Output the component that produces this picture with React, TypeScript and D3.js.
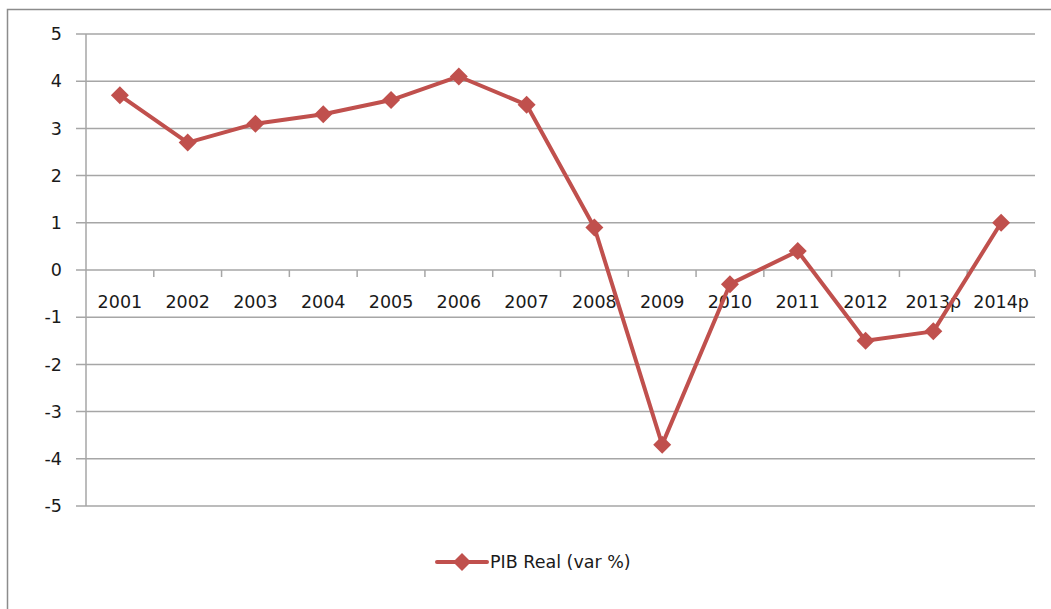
import React from "react";
import * as d3 from "d3";

const categories = ["2001","2002","2003","2004","2005","2006","2007","2008","2009","2010","2011","2012","2013p","2014p"];
const values = [3.7, 2.7, 3.1, 3.3, 3.6, 4.1, 3.5, 0.9, -3.7, -0.3, 0.4, -1.5, -1.3, 1.0];
const yTicks = [5, 4, 3, 2, 1, 0, -1, -2, -3, -4, -5];
const seriesName = "PIB Real (var %)";

const W = 1051, H = 609;
const left = 86, right = 1035, top = 34, bottom = 506;
const color = "#C0504D";
const gridColor = "#A6A6A6";
const font = "'DejaVu Sans', sans-serif";
const fs = 17.5;

export default function App() {
  const x = d3.scaleBand<string>().domain(categories).range([left, right]);
  const y = d3.scaleLinear().domain([-5, 5]).range([bottom, top]);
  const line = d3.line<number>().x((_, i) => (x(categories[i]) as number) + x.bandwidth() / 2).y(d => y(d));
  const diamond = (cx: number, cy: number, r: number) => `M${cx},${cy - r}L${cx + r},${cy}L${cx},${cy + r}L${cx - r},${cy}Z`;
  const y0 = y(0);
  return (
    <svg width={W} height={H} style={{ position: "absolute", left: 0, top: 0, background: "#fff" }}>
      <rect x={7.5} y={9.5} width={1100} height={700} fill="none" stroke="#8C8C8C" strokeWidth={1.5} />
      {yTicks.map(t => (
        <g key={t}>
          <line x1={76} x2={right} y1={y(t)} y2={y(t)} stroke={gridColor} strokeWidth={1.5} />
          <text x={62} y={y(t)} dy="0.35em" textAnchor="end" fontFamily={font} fontSize={fs} fill="#1a1a1a">{t}</text>
        </g>
      ))}
      <line x1={left} x2={left} y1={top} y2={bottom} stroke={gridColor} strokeWidth={1.5} />
      {categories.map((c, i) => (
        <g key={c}>
          <line x1={(x(c) as number) + x.bandwidth()} x2={(x(c) as number) + x.bandwidth()} y1={y0} y2={y0 + 7} stroke={gridColor} strokeWidth={1.5} />
          <text x={(x(c) as number) + x.bandwidth() / 2} y={y0 + 32} dy="0.35em" textAnchor="middle" fontFamily={font} fontSize={fs} fill="#1a1a1a">{c}</text>
        </g>
      ))}
      <path d={line(values) || ""} fill="none" stroke={color} strokeWidth={4} strokeLinejoin="round" />
      {values.map((v, i) => (
        <path key={i} d={diamond((x(categories[i]) as number) + x.bandwidth() / 2, y(v), 9)} fill={color} />
      ))}
      <line x1={437} x2={487} y1={562} y2={562} stroke={color} strokeWidth={4} strokeLinecap="round" />
      <path d={diamond(462, 562, 9)} fill={color} />
      <text x={490} y={562} dy="0.35em" fontFamily={font} fontSize={fs} fill="#1a1a1a">{seriesName}</text>
    </svg>
  );
}
